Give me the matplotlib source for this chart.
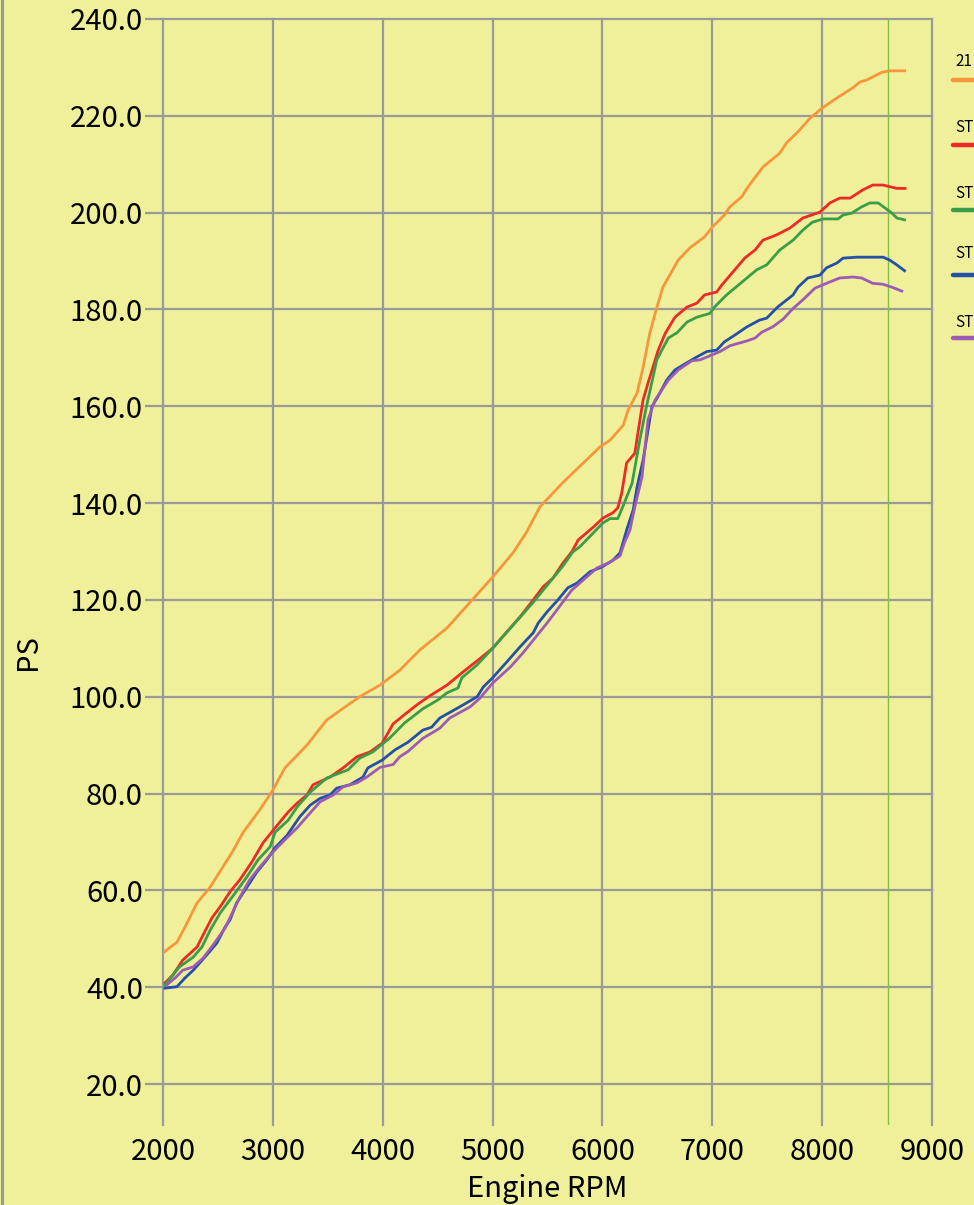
import matplotlib
matplotlib.use("Agg")
import matplotlib.pyplot as plt
from matplotlib.lines import Line2D

plt.rcParams['font.family'] = ['Noto Sans CJK JP', 'DejaVu Sans']

labels = ["21", "ST", "ST", "ST", "ST"]
colors = ["#F7963A", "#EE2A24", "#3A9E48", "#2450A8", "#9E5BB5"]

orange_rpm = [2000, 2127, 2200, 2310, 2430, 2630, 2730, 2880, 3000, 3110, 3310, 3490, 3790, 3975,
              4157, 4340, 4585, 4775, 5000, 5185, 5310, 5430, 5630, 5977, 6070, 6190, 6233, 6315,
              6370, 6430, 6490, 6550, 6690, 6795, 6930, 7000, 7110, 7160, 7270, 7315, 7460, 7615,
              7675, 7780, 7890, 8000, 8135, 8280, 8345, 8405, 8545, 8617, 8750]
orange_ps = [47.1, 49.3, 52.4, 57.4, 60.7, 67.9, 72.0, 76.6, 80.7, 85.3, 90.0, 95.2, 100.0, 102.4,
             105.5, 109.7, 114.2, 119.0, 124.7, 129.7, 134.0, 139.2, 144.0, 151.6, 153.0, 156.1, 159.2, 162.7,
             168.0, 175.0, 180.0, 184.6, 190.2, 192.7, 195.0, 197.0, 199.5, 201.2, 203.3, 205.0, 209.4, 212.3,
             214.4, 216.7, 219.5, 221.6, 223.7, 225.8, 227.0, 227.4, 229.0, 229.3, 229.3]

red_rpm = [2018, 2090, 2180, 2310, 2365, 2445, 2520, 2610, 2700, 2810, 2910, 3020, 3140, 3220, 3310,
           3365, 3520, 3640, 3765, 3885, 3995, 4095, 4220, 4310, 4430, 4585, 4730, 4870, 5000, 5130,
           5250, 5370, 5460, 5550, 5640, 5720, 5780, 5915, 6005, 6095, 6140, 6175, 6220, 6295, 6323,
           6370, 6415, 6460, 6505, 6570, 6660, 6770, 6860, 6930, 7040, 7085, 7205, 7295, 7390, 7460,
           7585, 7705, 7825, 7980, 8070, 8160, 8255, 8370, 8460, 8555, 8680, 8755]
red_ps = [40.9, 42.5, 45.6, 48.3, 50.8, 54.3, 56.6, 59.7, 62.2, 65.9, 69.8, 72.9, 76.2, 78.0, 79.7,
          81.8, 83.4, 85.3, 87.6, 88.6, 90.4, 94.4, 96.7, 98.3, 100.2, 102.4, 105.1, 107.6, 110.0, 113.4,
          116.5, 120.0, 122.7, 124.5, 127.6, 129.9, 132.4, 135.0, 136.9, 138.0, 139.0, 142.0, 148.3, 150.3, 154.5,
          161.3, 164.8, 168.1, 171.4, 175.0, 178.4, 180.5, 181.3, 183.0, 183.6, 185.0, 188.2, 190.6, 192.3, 194.3,
          195.4, 196.8, 198.9, 200.1, 202.0, 203.0, 203.0, 204.7, 205.7, 205.7, 205.0, 205.0]

green_rpm = [2018, 2150, 2275, 2355, 2430, 2520, 2655, 2765, 2865, 2975, 3020, 3140, 3220, 3340, 3490,
             3685, 3790, 3910, 4065, 4200, 4365, 4500, 4585, 4685, 4720, 4860, 5000, 5370, 5640, 5730,
             5795, 5915, 6005, 6070, 6140, 6190, 6270, 6340, 6400, 6460, 6495, 6550, 6600, 6680, 6770,
             6860, 6980, 7020, 7130, 7220, 7315, 7405, 7495, 7615, 7735, 7825, 7910, 8010, 8145, 8190,
             8270, 8360, 8435, 8510, 8570, 8635, 8680, 8750]
green_ps = [40.5, 44.2, 46.2, 48.3, 51.8, 55.3, 59.4, 62.8, 66.3, 69.0, 72.0, 74.5, 77.2, 80.3, 83.2,
            84.9, 87.3, 88.6, 91.5, 94.6, 97.5, 99.3, 100.8, 101.8, 103.9, 106.6, 110.0, 119.5, 127.0, 129.9,
            131.0, 133.8, 135.9, 136.8, 136.8, 139.5, 144.1, 153.0, 159.9, 166.0, 169.6, 172.0, 174.1, 175.2, 177.4,
            178.4, 179.2, 180.5, 183.0, 184.7, 186.5, 188.2, 189.2, 192.3, 194.3, 196.4, 198.0, 198.7, 198.7, 199.5,
            199.9, 201.2, 202.0, 202.0, 201.0, 199.9, 198.9, 198.5]

blue_rpm = [2018, 2127, 2200, 2275, 2400, 2490, 2565, 2610, 2670, 2765, 2855, 2945, 3020, 3130, 3245,
            3340, 3430, 3520, 3580, 3700, 3820, 3865, 3995, 4110, 4230, 4365, 4445, 4520, 4685, 4860,
            4915, 5000, 5130, 5250, 5370, 5415, 5495, 5595, 5685, 5770, 5885, 5995, 6095, 6160, 6220,
            6280, 6315, 6370, 6400, 6450, 6505, 6585, 6660, 6770, 6860, 6950, 7040, 7110, 7205, 7315,
            7430, 7495, 7595, 7735, 7780, 7870, 7980, 8040, 8135, 8190, 8315, 8435, 8555, 8615, 8680, 8750]
blue_ps = [39.8, 40.1, 41.9, 43.5, 46.7, 49.1, 52.4, 53.9, 57.4, 60.7, 63.8, 66.3, 68.8, 71.4, 75.2,
           77.6, 79.0, 79.7, 81.1, 81.8, 83.4, 85.3, 86.9, 89.0, 90.6, 93.1, 93.7, 95.6, 97.7, 100.0,
           102.0, 103.9, 107.2, 110.3, 113.2, 115.2, 117.5, 120.0, 122.5, 123.5, 125.8, 126.8, 128.2, 129.7, 134.4,
           138.6, 143.3, 148.9, 153.0, 159.9, 162.0, 165.4, 167.5, 169.0, 170.2, 171.3, 171.6, 173.3, 174.7, 176.4,
           177.8, 178.2, 180.5, 183.0, 184.6, 186.5, 187.1, 188.6, 189.6, 190.6, 190.8, 190.8, 190.8, 190.2, 189.2, 188.0]

purple_rpm = [2036, 2110, 2180, 2275, 2365, 2455, 2565, 2630, 2700, 2790, 2880, 2975, 3090, 3220, 3340,
              3430, 3550, 3640, 3765, 3855, 3975, 4095, 4155, 4230, 4365, 4520, 4610, 4795, 4885, 5000,
              5160, 5275, 5385, 5495, 5585, 5720, 5825, 5950, 6070, 6160, 6200, 6250, 6295, 6360, 6415,
              6480, 6600, 6690, 6815, 6890, 6995, 7070, 7160, 7315, 7390, 7450, 7550, 7645, 7735, 7825,
              7935, 8040, 8160, 8280, 8360, 8460, 8555, 8635, 8725]
purple_ps = [40.5, 41.9, 43.5, 44.2, 46.0, 48.7, 52.2, 55.3, 58.6, 62.2, 64.8, 67.3, 70.0, 72.9, 76.0,
             78.3, 79.7, 81.4, 82.2, 83.4, 85.4, 86.0, 87.6, 88.7, 91.4, 93.5, 95.6, 97.9, 99.7, 102.8,
             106.1, 109.0, 112.1, 115.2, 117.9, 122.0, 124.1, 126.6, 127.8, 129.1, 131.8, 134.4, 139.2, 145.4, 157.2,
             161.3, 165.4, 167.5, 169.4, 169.6, 170.6, 171.3, 172.5, 173.5, 174.1, 175.3, 176.4, 178.0, 180.2, 182.0,
             184.4, 185.4, 186.5, 186.7, 186.5, 185.4, 185.2, 184.6, 183.8]

series_rpm = [orange_rpm, red_rpm, green_rpm, blue_rpm, purple_rpm]
series_ps = [orange_ps, red_ps, green_ps, blue_ps, purple_ps]

x_ticks = [2000, 3000, 4000, 5000, 6000, 7000, 8000, 9000]
y_ticks = [20, 40, 60, 80, 100, 120, 140, 160, 180, 200, 220, 240]
marker_rpm = 8600

bg = "#F0F09A"
grid_c = "#9A9A9A"

fig = plt.figure(figsize=(9.74, 12.05), dpi=100, facecolor=bg)
W, H = 974, 1205
ax = fig.add_axes([163 / W, 1 - 1125 / H, (932 - 163) / W, (1125 - 19) / H])
ax.set_facecolor(bg)
ax.set_xlim(2000, 9000)
ax.set_ylim(20 - 41 / 4.841, 240)
for s in ax.spines.values():
    s.set_visible(False)

ax.set_xticks(x_ticks)
ax.set_yticks(y_ticks)
ax.set_xticklabels([str(v) for v in x_ticks])
ax.set_yticklabels([f"{v:.1f}" for v in y_ticks])
ax.grid(True, color=grid_c, linewidth=1.6, zorder=0)
ax.set_axisbelow(True)
for gl in ax.get_xgridlines() + ax.get_ygridlines():
    gl.set_clip_on(False)
ax.tick_params(axis='y', length=13, width=1.6, color=grid_c, pad=1.5, labelsize=21)
ax.tick_params(axis='x', length=0, pad=9, labelsize=21)

ax.axvline(marker_rpm, color="#7DC242", linewidth=1.0, zorder=1)

for r, p, c in zip(series_rpm, series_ps, colors):
    ax.plot(r, p, color=c, linewidth=2.0, zorder=3, solid_joinstyle='round')

ax.set_ylabel("PS", fontsize=21)
ax.yaxis.set_label_coords((43 - 163) / 769, 1 - (652 - 19) / 1106)
ax.set_xlabel("Engine RPM", fontsize=21, labelpad=5)

# left frame line
fig.add_artist(Line2D([2 / W, 2 / W], [0, 1], color=grid_c, linewidth=2.2))

# legend (cut off by figure edge)
leg_text_y = [62, 128, 193, 253, 323]
leg_line_y = [80, 145, 210, 275, 338]
for lab, c, ty, ly in zip(labels, colors, leg_text_y, leg_line_y):
    fig.text(955 / W, 1 - ty / H, lab, fontsize=11, va='center', ha='left', color='black')
    fig.add_artist(Line2D([953 / W, 990 / W], [1 - ly / H, 1 - ly / H], color=c,
                          linewidth=3.2, solid_capstyle='round'))

fig.savefig("out.png", dpi=100, facecolor=bg)
